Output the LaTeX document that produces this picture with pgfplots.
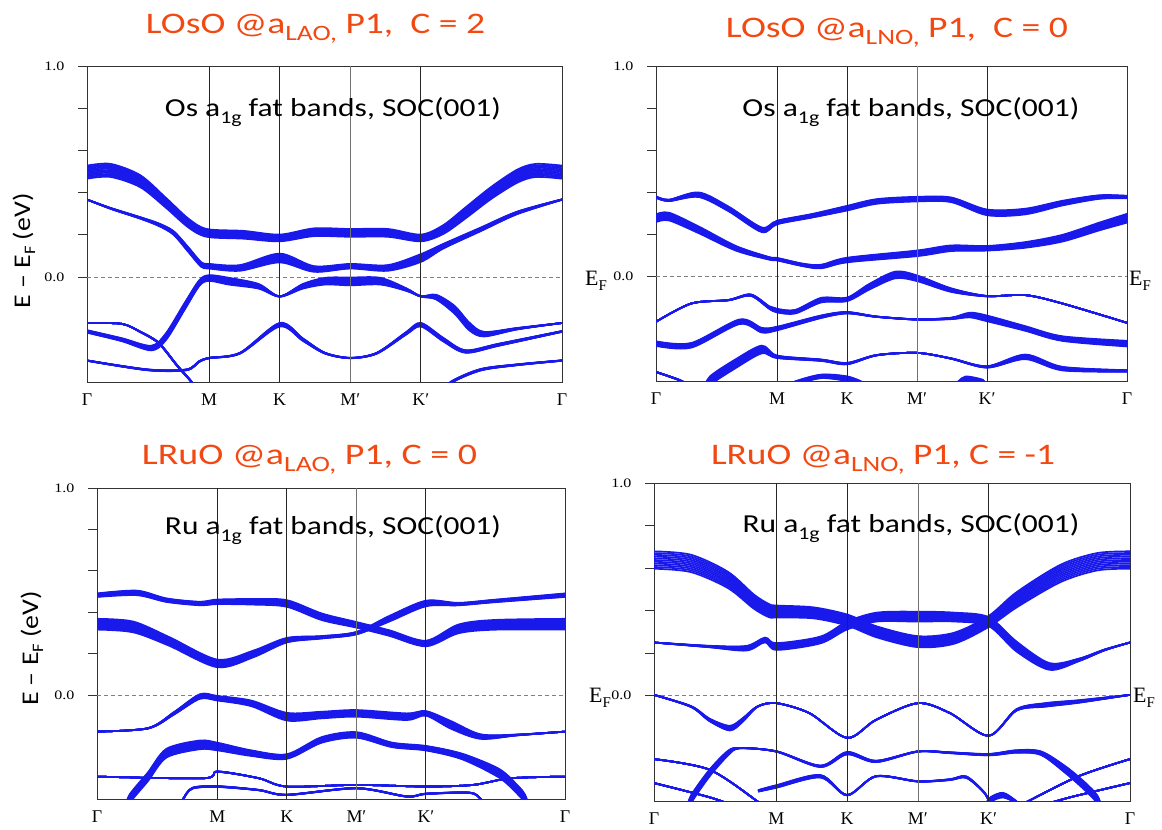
\documentclass[border=0pt]{standalone}
\usepackage{fontspec}
\setmainfont{Carlito}
\newfontfamily\tnr{Liberation Serif}
\usepackage{graphicx}
\usepackage{pgfplots}
\usepackage{pgfplotstable}
\pgfplotsset{compat=1.18}
\definecolor{bandc}{RGB}{25,25,235}
\definecolor{titlec}{RGB}{242,72,18}

% ---------- panel 1 : LOsO @ aLAO ----------
\pgfplotstableread[row sep=\\]{
u e w\\
0 0.497 0.07\\ 0.194 0.505 0.07\\ 0.436 0.454 0.065\\ 0.647 0.351 0.055\\ 0.829 0.256 0.05\\ 0.98 0.209 0.045\\
1.283 0.200 0.045\\ 1.577 0.185 0.04\\ 1.857 0.212 0.045\\ 2.155 0.209 0.045\\ 2.462 0.209 0.045\\ 2.732 0.185 0.04\\
2.916 0.225 0.05\\ 3.098 0.304 0.06\\ 3.309 0.399 0.065\\ 3.521 0.478 0.07\\ 3.672 0.505 0.07\\ 3.887 0.497 0.07\\
}\pA
\pgfplotstableread[row sep=\\]{
u e w\\
0 0.367 0.008\\ 0.194 0.325 0.012\\ 0.436 0.280 0.015\\ 0.587 0.248 0.02\\ 0.708 0.209 0.025\\ 0.829 0.130 0.03\\
0.935 0.059 0.03\\ 1.0 0.051 0.03\\ 1.252 0.043 0.035\\ 1.577 0.09 0.05\\ 1.857 0.038 0.035\\ 2.155 0.051 0.03\\
2.462 0.043 0.035\\ 2.732 0.09 0.045\\ 2.916 0.146 0.03\\ 3.219 0.225 0.025\\ 3.521 0.304 0.02\\ 3.887 0.367 0.01\\
}\pB
\pgfplotstableread[row sep=\\]{
u e w\\
0 -0.258 0.02\\ 0.284 -0.297 0.022\\ 0.526 -0.337 0.03\\ 0.647 -0.282 0.04\\ 0.799 -0.139 0.04\\ 0.920 -0.028 0.035\\
1.0 -0.005 0.035\\ 1.162 -0.02 0.04\\ 1.404 -0.044 0.03\\ 1.577 -0.092 0.01\\ 1.767 -0.044 0.03\\ 1.948 -0.02 0.04\\
2.155 -0.021 0.045\\ 2.402 -0.02 0.04\\ 2.614 -0.06 0.02\\ 2.732 -0.092 0.01\\ 2.856 -0.095 0.03\\ 3.007 -0.155 0.045\\
3.128 -0.234 0.045\\ 3.249 -0.271 0.03\\ 3.521 -0.245 0.015\\ 3.887 -0.218 0.008\\
}\pC
\pgfplotstableread[row sep=\\]{
u e w\\
0 -0.396 0.01\\ 0.496 -0.44 0.012\\ 0.814 -0.44 0.012\\ 0.920 -0.40 0.012\\ 1.0 -0.384 0.01\\ 1.252 -0.361 0.012\\
1.577 -0.226 0.025\\ 1.767 -0.297 0.02\\ 1.948 -0.361 0.012\\ 2.155 -0.384 0.01\\ 2.372 -0.361 0.012\\ 2.614 -0.266 0.02\\
2.732 -0.226 0.025\\ 2.916 -0.297 0.025\\ 3.098 -0.353 0.02\\ 3.370 -0.321 0.018\\ 3.887 -0.258 0.012\\
}\pD
\pgfplotstableread[row sep=\\]{
u e w\\
0 -0.218 0.006\\ 0.284 -0.222 0.008\\ 0.436 -0.26 0.01\\ 0.587 -0.313 0.012\\ 0.738 -0.42 0.012\\ 0.859 -0.5 0.012\\ 0.92 -0.56 0.012\\
}\pE
\pgfplotstableread[row sep=\\]{
u e w\\
2.90 -0.56 0.015\\ 2.977 -0.5 0.015\\ 3.219 -0.44 0.015\\ 3.521 -0.416 0.012\\ 3.887 -0.396 0.01\\
}\pF

% ---------- panel 2 : LOsO @ aLNO ----------
\pgfplotstableread[row sep=\\]{
u e w\\
0 0.376 0.015\\ 0.107 0.36 0.015\\ 0.352 0.387 0.03\\ 0.597 0.32 0.03\\ 0.873 0.22 0.03\\ 1.0 0.255 0.025\\
1.29 0.287 0.025\\ 1.577 0.323 0.03\\ 1.822 0.355 0.03\\ 2.155 0.366 0.03\\ 2.435 0.363 0.03\\ 2.732 0.303 0.035\\
3.048 0.307 0.035\\ 3.354 0.347 0.03\\ 3.660 0.376 0.025\\ 3.887 0.376 0.02\\
}\qA
\pgfplotstableread[row sep=\\]{
u e w\\
0 0.275 0.045\\ 0.107 0.283 0.045\\ 0.352 0.22 0.04\\ 0.659 0.132 0.03\\ 0.934 0.084 0.02\\ 1.0 0.08 0.02\\
1.21 0.053 0.02\\ 1.363 0.045 0.025\\ 1.577 0.076 0.03\\ 2.155 0.108 0.035\\ 2.435 0.132 0.035\\ 2.732 0.132 0.03\\
3.048 0.148 0.035\\ 3.354 0.18 0.04\\ 3.660 0.236 0.045\\ 3.887 0.275 0.05\\
}\qB
\pgfplotstableread[row sep=\\]{
u e w\\
0 -0.218 0.008\\ 0.291 -0.131 0.008\\ 0.597 -0.115 0.01\\ 0.781 -0.091 0.015\\ 0.934 -0.15 0.02\\ 1.0 -0.165 0.025\\
1.149 -0.17 0.025\\ 1.363 -0.115 0.03\\ 1.577 -0.111 0.025\\ 1.761 -0.051 0.035\\ 1.976 0.005 0.04\\ 2.155 -0.011 0.035\\
2.435 -0.067 0.025\\ 2.732 -0.096 0.01\\ 3.048 -0.091 0.008\\ 3.354 -0.131 0.008\\ 3.887 -0.223 0.008\\
}\qC
\pgfplotstableread[row sep=\\]{
u e w\\
0 -0.322 0.03\\ 0.291 -0.33 0.03\\ 0.689 -0.218 0.03\\ 0.873 -0.258 0.03\\ 1.0 -0.25 0.025\\ 1.363 -0.194 0.02\\
1.577 -0.175 0.015\\ 1.822 -0.194 0.01\\ 2.155 -0.207 0.01\\ 2.435 -0.202 0.015\\ 2.588 -0.186 0.03\\ 2.732 -0.202 0.035\\
3.048 -0.25 0.03\\ 3.354 -0.298 0.03\\ 3.887 -0.322 0.035\\
}\qD
\pgfplotstableread[row sep=\\]{
u e w\\
0.40 -0.56 0.05\\ 0.444 -0.5 0.05\\ 0.659 -0.417 0.05\\ 0.873 -0.35 0.045\\ 1.0 -0.385 0.02\\ 1.363 -0.401 0.015\\
1.577 -0.417 0.015\\ 1.822 -0.377 0.01\\ 2.155 -0.366 0.008\\ 2.435 -0.393 0.01\\ 2.732 -0.433 0.015\\ 3.048 -0.385 0.03\\
3.354 -0.441 0.025\\ 3.887 -0.452 0.015\\
}\qE
\pgfplotstableread[row sep=\\]{
u e w\\
0 -0.457 0.01\\ 0.199 -0.497 0.01\\ 0.30 -0.53 0.01\\
}\qF
\pgfplotstableread[row sep=\\]{
u e w\\
1.10 -0.53 0.025\\ 1.149 -0.51 0.025\\ 1.363 -0.478 0.025\\ 1.577 -0.489 0.03\\ 1.70 -0.51 0.02\\ 1.74 -0.53 0.02\\
}\qG
\pgfplotstableread[row sep=\\]{
u e w\\
2.46 -0.53 0.03\\ 2.50 -0.51 0.03\\ 2.558 -0.489 0.03\\ 2.695 -0.5 0.02\\ 2.72 -0.52 0.02\\
}\qH

% ---------- panel 3 : LRuO @ aLAO ----------
\pgfplotstableread[row sep=\\]{
u e w\\
0 0.483 0.025\\ 0.332 0.494 0.03\\ 0.577 0.459 0.025\\ 0.853 0.443 0.025\\ 1.0 0.451 0.03\\ 1.30 0.451 0.035\\
1.577 0.443 0.04\\ 1.866 0.379 0.04\\ 2.155 0.34 0.035\\ 2.43 0.30 0.035\\ 2.732 0.25 0.035\\ 3.0 0.32 0.05\\
3.3 0.34 0.055\\ 3.887 0.343 0.06\\
}\rA
\pgfplotstableread[row sep=\\]{
u e w\\
0 0.343 0.06\\ 0.3 0.33 0.06\\ 0.6 0.26 0.05\\ 1.0 0.154 0.045\\ 1.3 0.2 0.04\\ 1.577 0.266 0.03\\
1.866 0.28 0.02\\ 2.155 0.30 0.02\\ 2.43 0.37 0.035\\ 2.732 0.443 0.035\\ 3.0 0.44 0.02\\ 3.3 0.455 0.02\\ 3.887 0.483 0.025\\
}\rB
\pgfplotstableread[row sep=\\]{
u e w\\
0 -0.175 0.008\\ 0.424 -0.159 0.01\\ 0.639 -0.087 0.02\\ 0.853 -0.006 0.03\\ 1.0 -0.014 0.03\\ 1.283 -0.039 0.035\\
1.577 -0.103 0.045\\ 1.866 -0.095 0.04\\ 2.155 -0.087 0.04\\ 2.573 -0.103 0.04\\ 2.732 -0.087 0.03\\ 2.941 -0.143 0.045\\
3.187 -0.199 0.03\\ 3.494 -0.191 0.012\\ 3.887 -0.175 0.008\\
}\rC
\pgfplotstableread[row sep=\\]{
u e w\\
0.24 -0.56 0.05\\ 0.270 -0.5 0.05\\ 0.424 -0.392 0.05\\ 0.577 -0.279 0.05\\ 0.853 -0.239 0.05\\ 1.0 -0.247 0.045\\
1.283 -0.279 0.035\\ 1.577 -0.295 0.03\\ 1.866 -0.215 0.035\\ 2.155 -0.191 0.035\\ 2.45 -0.239 0.03\\ 2.732 -0.255 0.03\\
3.033 -0.295 0.035\\ 3.340 -0.376 0.05\\ 3.494 -0.456 0.05\\ 3.555 -0.5 0.05\\ 3.59 -0.56 0.05\\
}\rD
\pgfplotstableread[row sep=\\]{
u e w\\
0 -0.392 0.008\\ 0.884 -0.40 0.008\\ 1.0 -0.368 0.01\\ 1.345 -0.40 0.008\\ 1.577 -0.44 0.008\\ 2.155 -0.432 0.008\\
2.732 -0.44 0.008\\ 3.125 -0.432 0.008\\ 3.432 -0.40 0.008\\ 3.887 -0.392 0.008\\
}\rE
\pgfplotstableread[row sep=\\]{
u e w\\
0.68 -0.53 0.01\\ 0.715 -0.5 0.01\\ 0.792 -0.448 0.012\\ 1.0 -0.44 0.012\\ 1.345 -0.457 0.01\\ 1.577 -0.48 0.01\\
2.155 -0.448 0.01\\ 2.573 -0.488 0.01\\ 2.732 -0.475 0.01\\ 3.095 -0.47 0.01\\ 3.187 -0.5 0.01\\ 3.22 -0.53 0.01\\
}\rF

% ---------- panel 4 : LRuO @ aLNO ----------
\pgfplotstableread[row sep=\\]{
u e w\\
0 0.639 0.09\\ 0.302 0.623 0.09\\ 0.604 0.545 0.085\\ 0.815 0.443 0.075\\ 0.94 0.40 0.07\\ 1.0 0.396 0.065\\
1.3 0.39 0.06\\ 1.577 0.356 0.06\\ 1.82 0.30 0.06\\ 2.155 0.254 0.06\\ 2.45 0.27 0.06\\ 2.732 0.349 0.06\\
2.96 0.451 0.08\\ 3.32 0.576 0.09\\ 3.62 0.631 0.09\\ 3.887 0.639 0.09\\
}\sA
\pgfplotstableread[row sep=\\]{
u e w\\
0 0.25 0.008\\ 0.453 0.231 0.015\\ 0.755 0.223 0.03\\ 0.906 0.262 0.03\\ 1.0 0.231 0.04\\ 1.359 0.262 0.04\\
1.577 0.33 0.045\\ 1.82 0.37 0.05\\ 2.155 0.372 0.055\\ 2.45 0.37 0.05\\ 2.732 0.349 0.05\\ 2.96 0.231 0.055\\
3.229 0.137 0.04\\ 3.47 0.168 0.02\\ 3.68 0.215 0.012\\ 3.887 0.25 0.008\\
}\sB
\pgfplotstableread[row sep=\\]{
u e w\\
0 0.003 0.006\\ 0.302 -0.052 0.012\\ 0.453 -0.115 0.02\\ 0.619 -0.154 0.03\\ 0.725 -0.115 0.025\\ 0.846 -0.052 0.01\\
1.0 -0.036 0.006\\ 1.268 -0.083 0.006\\ 1.577 -0.2 0.008\\ 1.812 -0.115 0.006\\ 2.155 -0.036 0.006\\ 2.416 -0.083 0.006\\
2.732 -0.19 0.008\\ 2.96 -0.068 0.015\\ 3.201 -0.044 0.025\\ 3.473 -0.028 0.02\\ 3.887 0.003 0.008\\
}\sC
\pgfplotstableread[row sep=\\]{
u e w\\
0.27 -0.55 0.04\\ 0.302 -0.49 0.045\\ 0.453 -0.366 0.04\\ 0.604 -0.272 0.03\\ 0.70 -0.248 0.01\\ 1.0 -0.264 0.01\\
1.359 -0.334 0.015\\ 1.577 -0.272 0.02\\ 1.812 -0.311 0.015\\ 2.155 -0.264 0.01\\ 2.416 -0.27 0.012\\ 2.732 -0.279 0.015\\
2.96 -0.264 0.02\\ 3.16 -0.272 0.025\\ 3.36 -0.35 0.04\\ 3.52 -0.429 0.045\\ 3.62 -0.49 0.045\\ 3.66 -0.55 0.04\\
}\sD
\pgfplotstableread[row sep=\\]{
u e w\\
0 -0.30 0.006\\ 0.453 -0.35 0.006\\ 0.846 -0.5 0.006\\ 0.90 -0.53 0.006\\
}\sE
\pgfplotstableread[row sep=\\]{
u e w\\
2.94 -0.53 0.006\\ 3.05 -0.5 0.006\\ 3.47 -0.38 0.006\\ 3.887 -0.30 0.006\\
}\sF
\pgfplotstableread[row sep=\\]{
u e w\\
0.85 -0.45 0.015\\ 1.0 -0.429 0.02\\ 1.359 -0.381 0.02\\ 1.577 -0.47 0.01\\ 1.812 -0.381 0.01\\ 2.155 -0.405 0.01\\
2.416 -0.397 0.012\\ 2.55 -0.385 0.015\\ 2.70 -0.46 0.01\\ 2.75 -0.52 0.01\\
}\sG
\pgfplotstableread[row sep=\\]{
u e w\\
0 -0.413 0.006\\ 0.453 -0.48 0.006\\ 0.70 -0.53 0.006\\
}\sH
\pgfplotstableread[row sep=\\]{
u e w\\
3.10 -0.53 0.006\\ 3.40 -0.48 0.006\\ 3.887 -0.413 0.006\\
}\sI
\pgfplotstableread[row sep=\\]{
u e w\\
2.70 -0.53 0.03\\ 2.75 -0.49 0.03\\ 2.85 -0.47 0.03\\ 2.95 -0.5 0.02\\ 3.0 -0.53 0.02\\
}\sJ

% a fat band: strokes spread over the band's width w (in eV)
\newcommand{\band}[1]{%
 \pgfplotsforeachungrouped \k in {-1,-0.8,-0.6,-0.4,-0.2,0,0.2,0.4,0.6,0.8,1}{%
  \addplot[draw=bandc, line width=1.7bp, smooth, forget plot]
    table[x=u, y expr={\thisrow{e}+0.5*\k*max(\thisrow{w}-0.008,0)}] {#1};
 }%
}
\newcommand{\zeroline}{\draw[black!50, dash pattern=on 4bp off 3bp, line width=0.6bp] (0,0) -- (3.887,0);}
\newcommand{\vlines}{%
 \draw[black!85, line width=0.9bp] (1,-0.5) -- (1,1);
 \draw[black!85, line width=0.9bp] (1.577,-0.5) -- (1.577,1);
 \draw[black!55, line width=0.7bp] (2.155,-0.5) -- (2.155,1);
 \draw[black!85, line width=0.9bp] (2.732,-0.5) -- (2.732,1);
}
\newcommand{\tl}[1]{\resizebox{20bp}{\height}{#1}}

\pgfplotsset{bandaxis/.style={
  scale only axis, xmin=0, xmax=3.887, ymin=-0.5, ymax=1,
  axis line style={black!80, line width=0.9bp},
  ytick={0,0.2,0.4,0.6,0.8,1}, yticklabels={\tl{0.0},,,,,\tl{1.0}},
  ytick pos=left, xtick pos=bottom, tick align=outside, major tick length=9bp,
  ytick style={black!80, line width=0.9bp},
  xtick={0,1,1.577,2.155,2.732,3.887},
  xticklabels={Γ,M,K,M′,K′,Γ},
  xtick style={draw=none},
  xticklabel style={font=\tnr\fontsize{18}{18}\selectfont, yshift=1bp},
  yticklabel style={font=\tnr\fontsize{13}{13}\selectfont, xshift=-10bp},
}}

\begin{document}
\begin{tikzpicture}
\path[use as bounding box] (0,0) rectangle (1162bp,830bp);

\begin{axis}[bandaxis, at={(87bp,447.5bp)}, anchor=south west, width=475bp, height=316.5bp]
\zeroline
\band{\pA}\band{\pB}\band{\pC}\band{\pD}\band{\pE}\band{\pF}
\vlines
\end{axis}

\begin{axis}[bandaxis, at={(656bp,449bp)}, anchor=south west, width=471bp, height=315bp]
\zeroline
\band{\qA}\band{\qB}\band{\qC}\band{\qD}\band{\qE}\band{\qF}\band{\qG}\band{\qH}
\vlines
\end{axis}

\begin{axis}[bandaxis, at={(97bp,31bp)}, anchor=south west, width=468bp, height=311bp]
\zeroline
\band{\rA}\band{\rB}\band{\rC}\band{\rD}\band{\rE}\band{\rF}
\vlines
\end{axis}

\begin{axis}[bandaxis, at={(654bp,28.5bp)}, anchor=south west, width=476bp, height=318bp]
\zeroline
\band{\sA}\band{\sB}\band{\sC}\band{\sD}\band{\sE}\band{\sF}\band{\sG}\band{\sH}\band{\sI}\band{\sJ}
\vlines
\end{axis}

% titles
\node[anchor=base, text=titlec, inner sep=0] at (315.5bp,796bp) {\resizebox{339bp}{\height}{\fontsize{30}{36}\selectfont LOsO @a\raisebox{-7bp}{\fontsize{22}{26}\selectfont LAO,} P1,\ \ C = 2}};
\node[anchor=base, text=titlec, inner sep=0] at (897bp,792bp) {\resizebox{342bp}{\height}{\fontsize{30}{36}\selectfont LOsO @a\raisebox{-7bp}{\fontsize{22}{26}\selectfont LNO,} P1,\ \ C = 0}};
\node[anchor=base, text=titlec, inner sep=0] at (309.5bp,365bp) {\resizebox{335bp}{\height}{\fontsize{30}{36}\selectfont LRuO @a\raisebox{-7bp}{\fontsize{22}{26}\selectfont LAO,} P1, C = 0}};
\node[anchor=base, text=titlec, inner sep=0] at (883bp,365bp) {\resizebox{344bp}{\height}{\fontsize{30}{36}\selectfont LRuO @a\raisebox{-7bp}{\fontsize{22}{26}\selectfont LNO,} P1, C = -1}};

% annotations
\node[anchor=base, inner sep=0] at (333bp,713bp) {\resizebox{336bp}{\height}{\fontsize{26}{31}\selectfont Os a\raisebox{-7bp}{\fontsize{18}{22}\selectfont 1g} fat bands, SOC(001)}};
\node[anchor=base, inner sep=0] at (911bp,713bp) {\resizebox{337bp}{\height}{\fontsize{26}{31}\selectfont Os a\raisebox{-7bp}{\fontsize{18}{22}\selectfont 1g} fat bands, SOC(001)}};
\node[anchor=base, inner sep=0] at (333bp,295bp) {\resizebox{336bp}{\height}{\fontsize{26}{31}\selectfont Ru a\raisebox{-7bp}{\fontsize{18}{22}\selectfont 1g} fat bands, SOC(001)}};
\node[anchor=base, inner sep=0] at (911bp,297bp) {\resizebox{337bp}{\height}{\fontsize{26}{31}\selectfont Ru a\raisebox{-7bp}{\fontsize{18}{22}\selectfont 1g} fat bands, SOC(001)}};

% y labels
\node[rotate=90, inner sep=0] at (24bp,579bp) {\resizebox{115bp}{\height}{\fontsize{24}{29}\selectfont E – E\raisebox{-5bp}{\fontsize{16}{19}\selectfont F} (eV)}};
\node[rotate=90, inner sep=0] at (32bp,181.5bp) {\resizebox{115bp}{\height}{\fontsize{24}{29}\selectfont E – E\raisebox{-5bp}{\fontsize{16}{19}\selectfont F} (eV)}};

% E_F labels
\node[anchor=base west, inner sep=0] at (585bp,544bp) {\tnr\fontsize{22}{26}\selectfont E\raisebox{-5bp}{\fontsize{15}{18}\selectfont F}};
\node[anchor=base west, inner sep=0] at (1129bp,544bp) {\tnr\fontsize{22}{26}\selectfont E\raisebox{-5bp}{\fontsize{15}{18}\selectfont F}};
\node[anchor=base west, inner sep=0] at (589bp,127bp) {\tnr\fontsize{22}{26}\selectfont E\raisebox{-5bp}{\fontsize{15}{18}\selectfont F}};
\node[anchor=base west, inner sep=0] at (1133bp,127bp) {\tnr\fontsize{22}{26}\selectfont E\raisebox{-5bp}{\fontsize{15}{18}\selectfont F}};
\end{tikzpicture}
\end{document}
